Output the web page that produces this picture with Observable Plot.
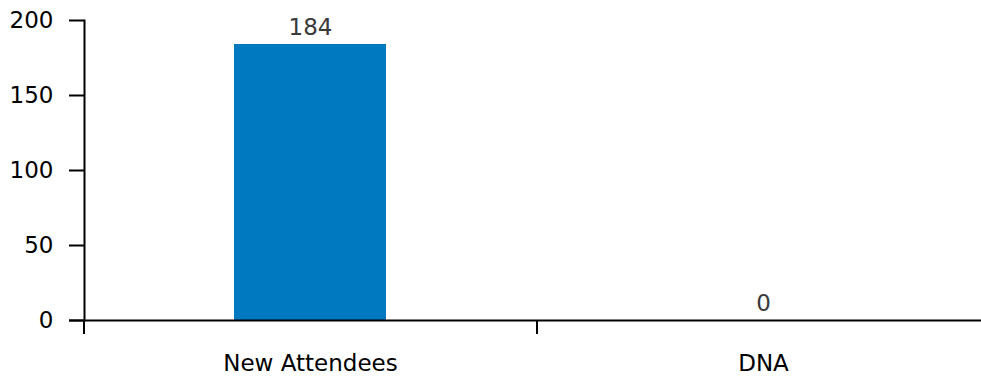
<!DOCTYPE html>
<html>
<head>
<meta charset="utf-8">
<script src="https://cdn.jsdelivr.net/npm/d3@7"></script>
<script src="https://cdn.jsdelivr.net/npm/@observablehq/plot@0.6"></script>
<style>
  html, body { margin: 0; padding: 0; background: #fff; overflow: hidden; }
  #chart svg { display: block; }
</style>
</head>
<body>
<div id="chart"></div>
<script>
// Attendance counts by category
const categories = ["New Attendees", "DNA"];
const counts = [184, 0];
const yTicks = [0, 50, 100, 150, 200];

const rows = categories.map((c, i) => ({category: c, count: counts[i]}));

const width = 990;
const marginLeft = 84;
const marginRight = 0;
const paddingInner = 0.664;
const paddingOuter = paddingInner / 2;
const step = (width - marginLeft - marginRight) / (categories.length - paddingInner + 2 * paddingOuter);

const ink = "#000";
const fontSize = 23;
const chart = Plot.plot({
  width,
  height: 379,
  marginTop: 20,
  marginBottom: 59,
  marginLeft,
  marginRight,
  style: {fontFamily: "DejaVu Sans", fontSize: `${fontSize}px`, color: ink, background: "#fff", maxWidth: "none"},
  x: {domain: categories, paddingInner, paddingOuter, label: null},
  y: {domain: [0, 200], label: null},
  marks: [
    Plot.barY(rows, {x: "category", y: "count", fill: "#0079C1"}),
    Plot.text(rows, {
      x: "category", y: "count", text: d => String(d.count),
      dy: -10, lineAnchor: "bottom", fill: "#3a3a3a", fontSize
    }),
    Plot.axisY({ticks: yTicks, tickSize: 15, tickPadding: 16, strokeWidth: 2, fontSize, label: null}),
    Plot.frame({anchor: "left", stroke: ink, strokeWidth: 2}),
    Plot.ruleY([0], {stroke: ink, strokeWidth: 2, insetLeft: -15}),
    // separators between categories, hanging below the baseline
    Plot.ruleX(categories, {x: d => d, y1: 0, y2: 0, dx: -step / 2, insetBottom: -14, stroke: ink, strokeWidth: 2}),
    Plot.axisX({tickSize: 0, tickPadding: 34, fontSize, label: null})
  ]
});

document.getElementById("chart").appendChild(chart);
</script>
</body>
</html>
